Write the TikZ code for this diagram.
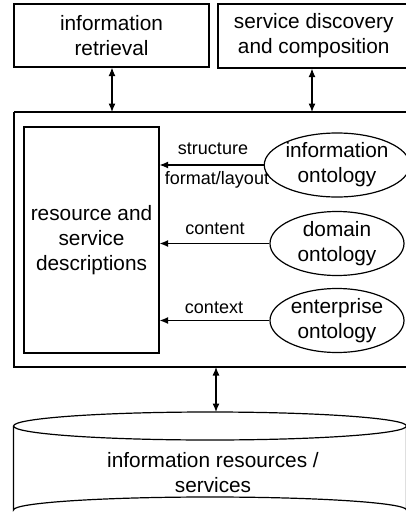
\documentclass[tikz,border=0pt]{standalone}
\usepackage{fontspec}
\setmainfont{Liberation Sans}
\usetikzlibrary{arrows.meta,shapes.geometric}
\begin{document}
\begin{tikzpicture}[x=1pt,y=-1pt,
  line width=1.2pt,
  main/.style={font=\fontsize{20.8}{25}\selectfont, align=center},
  lbl/.style={font=\fontsize{18}{21}\selectfont, inner sep=1pt},
  boxn/.style={draw, main, inner sep=0pt},
  onto/.style={draw, ellipse, main, inner sep=0pt, minimum width=134pt, minimum height=64pt},
  arr/.style={-{Latex[length=8.5pt,width=7pt]}},
  darr/.style={{Latex[length=8.5pt,width=7pt]}-{Latex[length=8.5pt,width=7pt]}}]
\useasboundingbox (0,0) rectangle (406,522);
\begin{scope}
\clip (0,0) rectangle (406,522);
% top boxes
\node[boxn, minimum width=195pt, minimum height=63pt] (ir) at (111.5,35.5) {information\\retrieval};
\node[draw, minimum width=190pt, minimum height=64pt, inner sep=0pt] (sd) at (313,36) {};
\node[main, anchor=west] (sdt) at (230,36) {service discovery\\and composition};
% big box
\draw (14,112) -- (420,112);
\draw (14,112) -- (14,367) -- (420,367);
\coordinate (bt1) at (112,112);
\coordinate (bt2) at (312,112);
\coordinate (bb) at (216,367);
% inner rect
\node[boxn, minimum width=135pt, minimum height=226pt] (rsd) at (91.5,240) {resource and\\service\\descriptions};
% ellipses
\node[onto] (io) at (337,165) {information\\ontology};
\node[onto] (do) at (337,243.5) {domain\\ontology};
\node[onto] (eo) at (337,320.5) {enterprise\\ontology};
% connectors
\draw[darr] (ir.south -| bt1) -- (bt1);
\draw[darr] (sd.south -| bt2) -- (bt2);
\draw[arr] (io.west) -- (io.west -| rsd.east);
\draw[arr] (do.west) -- (do.west -| rsd.east);
\draw[arr] (eo.west) -- (eo.west -| rsd.east);
\node[lbl] at (213,149) {structure};
\node[lbl] at (217,180) {format/layout};
\node[lbl] at (215,229) {content};
\node[lbl] at (214,308) {context};
% cylinder
\coordinate (cyl) at (216,412);
\draw (13.5,426) -- (13.5,510) arc[start angle=180,end angle=360,x radius=196.5,y radius=13] -- (406.5,426);
\draw (210,426) ellipse[x radius=196.5,y radius=14];
\node[main] (irs) at (213,473) {information resources /\\services};
\draw[darr] (bb) -- (cyl);
\end{scope}
\end{tikzpicture}
\end{document}
